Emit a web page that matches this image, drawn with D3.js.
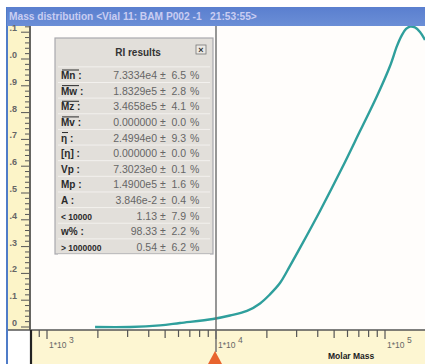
<!DOCTYPE html>
<html>
<head>
<meta charset="utf-8">
<script src="https://cdn.jsdelivr.net/npm/d3@7/dist/d3.min.js"></script>
<style>
  html, body { margin: 0; padding: 0; background: #ffffff; }
  svg { display: block; font-family: "Liberation Sans", Arial, sans-serif; }
</style>
</head>
<body>
<div id="chart"></div>
<script>
// Molar mass distribution (RI detector) with a results panel
const molarMass = [1925, 3100, 4660, 6120, 9600, 12100, 15250, 18220, 20870, 23910, 27410, 31410, 41250, 55670, 71150, 89680, 107100, 117800, 126100, 133200, 140600, 150500, 161100, 172500];
const weightFraction = [0.0, 0.0, 0.006, 0.015, 0.03, 0.043, 0.06, 0.088, 0.122, 0.164, 0.228, 0.295, 0.433, 0.593, 0.731, 0.862, 0.974, 1.049, 1.090, 1.112, 1.121, 1.118, 1.101, 1.071];

const yTickValues = [0, 0.1, 0.2, 0.3, 0.4, 0.5, 0.6, 0.7, 0.8, 0.9, 1.0, 1.1];
const xDecades = [1e3, 1e4, 1e5];
const cursorMass = 1e4;

const statLabels = ["Mn", "Mw", "Mz", "Mv", "η", "[η]", "Vp", "Mp", "A", "< 10000", "w%", "> 1000000"];
const statOverline = [true, true, true, true, true, false, false, false, false, false, false, false];
const statValues = ["7.3334e4", "1.8329e5", "3.4658e5", "0.000000", "2.4994e0", "0.000000", "7.3023e0", "1.4900e5", "3.846e-2", "1.13", "98.33", "0.54"];
const statErrors = ["6.5", "2.8", "4.1", "0.0", "9.3", "0.0", "0.1", "1.6", "0.4", "7.9", "2.2", "6.2"];

const titleText = "Mass distribution <Vial 11: BAM P002 -1   21:53:55>";
const panelTitle = "RI results";
const xAxisTitle = "Molar Mass";

const W = 425, H = 364;
const frameLeft = 7, titleTop = 7, titleBottom = 26;
const plotLeft = 31, plotTop = 26, plotBottom = 330, plotRight = W;

const svg = d3.select("#chart").append("svg")
  .attr("width", W).attr("height", H);

const defs = svg.append("defs");
const tg = defs.append("linearGradient").attr("id", "titleGrad")
  .attr("x1", 0).attr("y1", 0).attr("x2", 0).attr("y2", 1);
tg.append("stop").attr("offset", "0%").attr("stop-color", "#5a7fcf");
tg.append("stop").attr("offset", "100%").attr("stop-color", "#6b8ed6");

defs.append("clipPath").attr("id", "frameClip")
  .append("rect").attr("x", frameLeft + 1).attr("y", 0).attr("width", W).attr("height", H);
defs.append("clipPath").attr("id", "plotClip")
  .append("rect").attr("x", plotLeft).attr("y", plotTop).attr("width", plotRight - plotLeft).attr("height", plotBottom - plotTop);

// scales
const x = d3.scaleLog().domain([1e3, 1e5]).range([47, 385]);
const y = d3.scaleLinear().domain([0, 1]).range([327, 59]);

// window frame
svg.append("rect").attr("x", frameLeft - 1).attr("y", titleTop).attr("width", 2).attr("height", H - titleTop)
  .attr("fill", "#4f7cc8");
svg.append("rect").attr("x", frameLeft).attr("y", titleTop).attr("width", W - frameLeft).attr("height", titleBottom - titleTop)
  .attr("fill", "url(#titleGrad)");
svg.append("text").attr("x", 9).attr("y", 20)
  .attr("font-size", 10.2).attr("font-weight", "bold").attr("fill", "#c9cdf2")
  .attr("xml:space", "preserve").style("white-space", "pre")
  .text(titleText);

// plot background
svg.append("rect").attr("x", plotLeft).attr("y", plotTop).attr("width", plotRight - plotLeft).attr("height", plotBottom - plotTop)
  .attr("fill", "#fffdfb");

// y ruler
svg.append("rect").attr("x", frameLeft + 1).attr("y", plotTop).attr("width", plotLeft - frameLeft - 1).attr("height", plotBottom - plotTop)
  .attr("fill", "#fcf4c8");
const yRuler = svg.append("g").attr("clip-path", "url(#frameClip)");
const yMinor = d3.range(0, 1.13, 0.02);
yRuler.selectAll("line.ytick").data(yMinor).join("line")
  .attr("x1", d => {
    const k = Math.round(d * 100);
    return k % 10 === 0 ? 21 : (k % 10 === 5 ? 23 : 25);
  })
  .attr("x2", 29)
  .attr("y1", d => y(d)).attr("y2", d => y(d))
  .attr("stroke", "#555").attr("stroke-width", 1);
yRuler.selectAll("text.ylab").data(yTickValues).join("text")
  .attr("x", 17).attr("y", d => y(d) - 1)
  .attr("text-anchor", "end").attr("font-size", 9).attr("font-weight", "bold").attr("fill", "#666")
  .text(d => d === 0 ? "0" : d3.format(".1f")(d).replace(/^[01]/, ""));

// x ruler
svg.append("rect").attr("x", plotLeft).attr("y", plotBottom).attr("width", W - plotLeft).attr("height", H - plotBottom)
  .attr("fill", "#fdf6d2");
const xTicks = [];
[1e2, 1e3, 1e4].forEach(dec => { for (let m = 1; m <= 9; m++) xTicks.push(dec * m); });
xTicks.push(1e5);
const xr = svg.append("g");
xr.selectAll("line").data(xTicks.filter(v => x(v) > plotLeft + 4 && x(v) < W)).join("line")
  .attr("x1", d => x(d)).attr("x2", d => x(d))
  .attr("y1", plotBottom).attr("y2", d => {
    const m = Math.round(d / Math.pow(10, Math.floor(Math.log10(d) + 1e-9)));
    return plotBottom + (m === 1 ? 9 : (m === 2 || m === 5 ? 8 : 7));
  })
  .attr("stroke", "#555").attr("stroke-width", 1.2);
const xLab = xr.selectAll("g.xlab").data(xDecades).join("g")
  .attr("transform", d => `translate(${x(d) + 2},348)`);
xLab.append("text").attr("font-size", 8.5).attr("fill", "#666").text("1*10");
xLab.append("text").attr("x", 20).attr("y", -5).attr("font-size", 8.5).attr("fill", "#666")
  .text(d => Math.round(Math.log10(d)));
svg.append("text").attr("x", 328).attr("y", 359).attr("font-size", 8.5).attr("font-weight", "bold")
  .attr("fill", "#222").text(xAxisTitle);

// axis lines
svg.append("line").attr("x1", frameLeft + 1).attr("x2", W).attr("y1", plotBottom).attr("y2", plotBottom)
  .attr("stroke", "#555").attr("stroke-width", 1.5);
svg.append("line").attr("x1", plotLeft - 1).attr("x2", plotLeft - 1).attr("y1", plotTop).attr("y2", plotBottom)
  .attr("stroke", "#555").attr("stroke-width", 1.8);
svg.append("line").attr("x1", plotLeft).attr("x2", plotLeft).attr("y1", plotBottom).attr("y2", H)
  .attr("stroke", "#222").attr("stroke-width", 2.2);

// distribution curve
const line = d3.line()
  .x((d, i) => x(molarMass[i]))
  .y(d => y(d))
  .curve(d3.curveCatmullRom.alpha(0.5));
svg.append("path").datum(weightFraction)
  .attr("clip-path", "url(#plotClip)")
  .attr("d", line)
  .attr("fill", "none").attr("stroke", "#2f9f9c").attr("stroke-width", 2.4);

// cursor line
svg.append("line").attr("x1", x(cursorMass)).attr("x2", x(cursorMass)).attr("y1", plotTop).attr("y2", 352)
  .attr("stroke", "#6a6a6a").attr("stroke-width", 1.4);
svg.append("path")
  .attr("d", `M${x(cursorMass) - 1},351 L${x(cursorMass) + 6},364 L${x(cursorMass) - 8},364 Z`)
  .attr("fill", "#e8642e");

// results panel
const px0 = 55, py0 = 38, pw = 158, ph = 216;
const panel = svg.append("g");
panel.append("rect").attr("x", px0).attr("y", py0).attr("width", pw).attr("height", ph)
  .attr("fill", "#e2dfda").attr("stroke", "#a9a9ad").attr("stroke-width", 1.2);
panel.append("text").attr("x", 138).attr("y", 56).attr("text-anchor", "middle")
  .attr("font-size", 10).attr("font-weight", "bold").attr("fill", "#333").text(panelTitle);
panel.append("rect").attr("x", 196).attr("y", 45).attr("width", 10).attr("height", 9)
  .attr("fill", "#ece9e4").attr("stroke", "#777").attr("stroke-width", 0.8);
panel.append("text").attr("x", 201).attr("y", 53).attr("text-anchor", "middle")
  .attr("font-size", 9).attr("font-weight", "bold").attr("fill", "#333").text("×");

const rowY = d3.scaleLinear().domain([0, statLabels.length - 1]).range([79, 251]);
const rowH = rowY(1) - rowY(0);
panel.selectAll("line.sep").data(d3.range(statLabels.length + 1)).join("line")
  .attr("x1", px0 + 3).attr("x2", px0 + pw - 3)
  .attr("y1", i => rowY(i) - rowH + 3.5).attr("y2", i => rowY(i) - rowH + 3.5)
  .attr("stroke", "#f3f1ee").attr("stroke-width", 1);

const rows = panel.selectAll("g.row").data(statLabels).join("g")
  .attr("transform", (d, i) => `translate(0,${rowY(i)})`);
rows.append("text").attr("x", 61).attr("font-size", d => d.length > 4 ? 8.5 : 10)
  .attr("font-weight", "bold").attr("fill", "#2a2a2a")
  .text((d, i) => d.startsWith("<") || d.startsWith(">") ? d : d + " :");
rows.filter((d, i) => statOverline[i]).append("line")
  .attr("x1", 62).attr("x2", (d) => d === "η" ? 68 : 79)
  .attr("y1", -9).attr("y2", -9).attr("stroke", "#2a2a2a").attr("stroke-width", 1);
rows.append("text").attr("x", 157).attr("text-anchor", "end").attr("font-size", 10.5).attr("fill", "#666")
  .text((d, i) => statValues[i]);
rows.append("text").attr("x", 163).attr("text-anchor", "middle").attr("font-size", 10.5).attr("fill", "#666")
  .text("±");
rows.append("text").attr("x", 186).attr("text-anchor", "end").attr("font-size", 10.5).attr("fill", "#666")
  .text((d, i) => statErrors[i]);
rows.append("text").attr("x", 190).attr("font-size", 10.5).attr("fill", "#666").text("%");
</script>
</body>
</html>
